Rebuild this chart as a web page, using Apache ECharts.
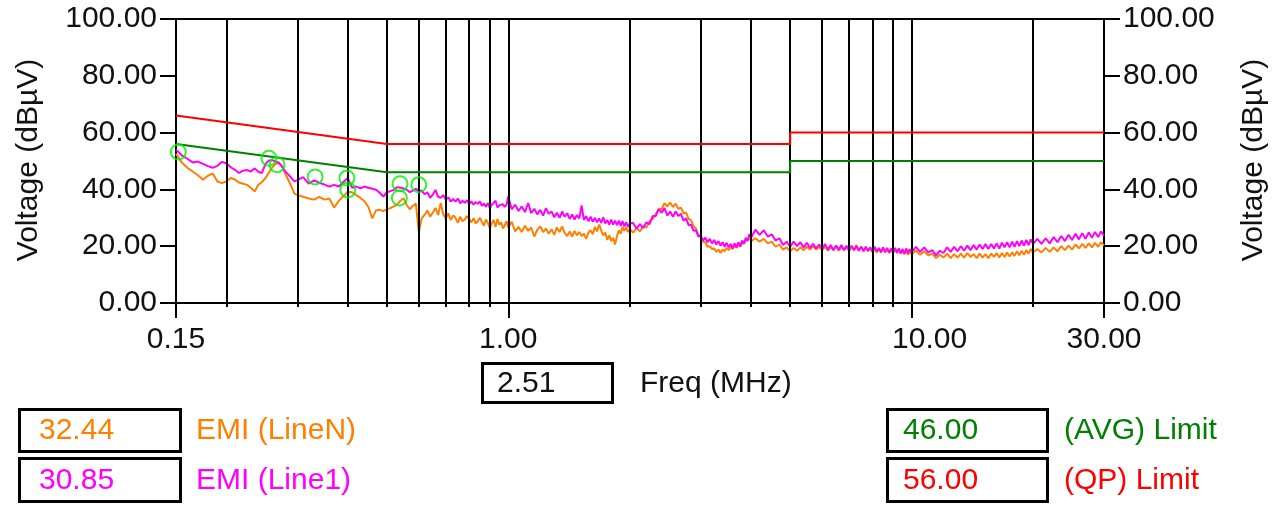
<!DOCTYPE html>
<html><head><meta charset="utf-8">
<script src="https://cdn.jsdelivr.net/npm/echarts@6/dist/echarts.min.js"></script>
<style>html,body{margin:0;padding:0;background:#fff;}#c{width:1281px;height:506px;}</style>
</head><body><div id="c"></div><script>
// Frequency sweep (MHz) shared by both EMI traces
const freqMHz = [
 0.150,0.155,0.160,0.165,0.170,0.175,0.180,0.185,0.190,0.195,0.200,0.205,0.210,0.215,0.220,0.225,0.230,0.235,0.240,0.245,0.250,0.255,0.260,0.265,0.270,0.275,0.280,0.285,0.290,0.295,0.300,
 0.31,0.32,0.33,0.34,0.35,0.36,0.37,0.38,0.39,0.40,0.41,0.42,0.43,0.44,0.45,0.46,0.47,0.48,0.49,0.50,0.51,0.52,0.53,0.54,0.55,0.56,0.57,0.58,0.59,0.60,
 0.61,0.62,0.63,0.64,0.65,0.66,0.67,0.68,0.69,0.70,0.71,0.72,0.73,0.74,0.75,0.76,0.77,0.78,0.79,0.80,
 0.81,0.82,0.83,0.84,0.85,0.86,0.87,0.88,0.89,0.90,0.91,0.92,0.93,0.94,0.95,0.96,0.97,0.98,0.99,1.00,
 1.02,1.04,1.06,1.08,1.10,1.12,1.14,1.16,1.18,1.20,1.22,1.24,1.26,1.28,1.30,1.32,1.34,1.36,1.38,1.40,
 1.42,1.44,1.46,1.48,1.50,1.52,1.54,1.56,1.58,1.60,1.62,1.64,1.66,1.68,1.70,1.72,1.74,1.76,1.78,1.80,
 1.82,1.84,1.86,1.88,1.90,1.92,1.94,1.96,1.98,2.00,
 2.04,2.08,2.12,2.16,2.20,2.24,2.28,2.32,2.36,2.40,2.44,2.48,2.52,2.56,2.60,2.64,2.68,2.72,2.76,2.80,
 2.84,2.88,2.92,2.96,3.00,3.04,3.08,3.12,3.16,3.20,3.24,3.28,3.32,3.36,3.40,3.44,3.48,3.52,3.56,3.60,
 3.64,3.68,3.72,3.76,3.80,3.84,3.88,3.92,3.96,4.00,
 4.1,4.2,4.3,4.4,4.5,4.6,4.7,4.8,4.9,5.0,5.1,5.2,5.3,5.4,5.5,5.6,5.7,5.8,5.9,6.0,
 6.1,6.2,6.3,6.4,6.5,6.6,6.7,6.8,6.9,7.0,7.1,7.2,7.3,7.4,7.5,7.6,7.7,7.8,7.9,8.0,
 8.1,8.2,8.3,8.4,8.5,8.6,8.7,8.8,8.9,9.0,9.1,9.2,9.3,9.4,9.5,9.6,9.7,9.8,9.9,10.0,
 10.25,10.5,10.75,11,11.25,11.5,11.75,12,12.25,12.5,12.75,13,13.25,13.5,13.75,14,14.25,14.5,14.75,15,
 15.25,15.5,15.75,16,16.25,16.5,16.75,17,17.25,17.5,17.75,18,18.25,18.5,18.75,19,19.25,19.5,19.75,20,
 20.5,21,21.5,22,22.5,23,23.5,24,24.5,25,25.5,26,26.5,27,27.5,28,28.5,29,29.5,30
];
// EMI (LineN) – orange trace, dBuV
const emiLineN = [
 52.5,49.5,47.6,46.3,45.0,43.4,44.8,45.6,42.8,42.2,42.8,44.0,43.5,42.4,42.0,41.6,40.6,39.3,41.6,42.6,44.0,46.0,47.8,49.0,49.2,48.0,45.5,43.2,41.0,38.5,38.0,
 37.4,36.8,36.4,37.4,36.4,36.8,33.6,36.0,37.6,39.2,39.0,38.0,37.0,35.8,33.8,29.8,32.6,32.8,32.4,33.0,33.4,34.0,34.6,36.0,36.9,34.5,33.0,34.2,35.0,25.0,
 29.8,31.0,32.6,30.4,31.8,33.5,31.0,35.2,31.2,29.8,31.6,29.2,30.8,30.0,28.2,30.4,28.8,29.4,30.6,29.6,
 28.4,29.9,28.0,28.8,30.0,28.6,27.2,29.4,28.2,26.4,28.0,29.2,26.8,29.6,27.6,28.4,26.2,27.4,28.8,26.6,
 28.6,25.2,26.8,25.0,27.2,25.4,26.6,23.4,25.8,27.0,25.0,26.2,24.4,26.0,24.0,26.6,25.0,27.0,24.6,23.6,
 25.2,23.4,25.4,23.8,25.0,23.6,24.4,22.6,24.8,25.6,24.2,26.8,25.2,27.6,25.6,23.8,24.8,22.2,23.8,21.8,
 23.0,20.6,23.6,25.6,24.4,26.8,25.4,26.6,25.0,26.0,
 24.8,26.4,25.2,27.0,26.6,28.8,29.6,31.2,33.2,33.0,35.2,34.0,35.4,33.8,35.0,33.2,33.6,31.6,31.8,29.6,
 29.2,27.0,26.2,24.0,23.4,21.6,21.4,19.8,20.0,19.0,19.2,18.0,18.8,17.6,18.8,18.2,19.4,18.6,19.8,19.0,
 20.2,19.4,20.6,19.8,21.2,20.8,22.0,21.6,22.8,21.8,
 22.8,21.6,22.6,21.0,21.6,19.8,20.6,18.8,19.6,18.2,19.4,18.4,19.6,18.6,19.8,18.8,20.0,18.8,19.8,18.6,
 19.8,18.4,19.6,18.8,20.0,18.4,19.6,18.8,20.2,18.6,19.8,18.8,20.4,18.6,19.8,18.4,19.6,18.2,19.4,18.0,
 19.2,17.8,19.0,18.0,19.2,17.8,18.8,17.6,18.6,17.8,19.0,17.6,18.6,17.4,18.4,17.2,18.4,17.0,18.2,17.2,
 18.4,17.0,18.2,16.8,17.4,15.8,17.0,16.0,17.4,15.8,17.2,16.0,17.4,16.0,17.6,16.2,17.2,15.8,17.4,16.0,
 17.2,15.8,17.4,16.2,17.6,16.0,17.6,16.2,17.8,16.4,17.8,16.6,18.2,16.8,18.4,17.0,18.6,17.4,19.0,17.8,
 19.0,17.8,19.4,18.0,19.6,18.2,20.0,18.6,20.2,18.8,20.6,19.2,20.8,19.4,21.0,19.6,21.2,19.8,21.4,20.2
];
// EMI (Line1) – magenta trace, dBuV
const emiLine1 = [
 54.0,52.0,50.8,49.5,49.8,49.0,48.2,47.6,48.3,49.7,49.2,47.8,46.9,45.8,46.6,46.8,46.3,47.4,46.2,45.8,49.0,50.2,50.3,49.8,49.4,48.0,46.3,45.2,44.0,42.8,43.3,
 44.3,42.0,43.2,42.3,41.7,41.0,41.6,41.0,42.6,44.0,40.6,41.0,40.4,41.0,40.6,40.2,39.9,38.8,37.5,39.0,39.4,39.8,40.8,40.6,40.3,39.9,39.0,39.6,40.2,39.2,
 39.6,38.3,39.0,37.0,38.2,39.8,37.4,37.0,38.0,36.3,37.2,35.7,36.6,35.7,36.8,35.1,36.0,35.3,36.2,34.8,
 35.8,34.6,35.6,34.9,35.8,34.2,35.0,33.9,35.2,33.4,34.6,34.3,36.0,33.6,34.4,33.9,34.8,33.8,34.6,37.5,
 33.0,34.6,32.4,34.0,32.0,35.2,31.6,33.2,31.2,32.8,30.8,33.4,31.4,32.2,30.2,31.8,30.0,32.2,30.4,31.6,
 29.6,31.2,29.4,31.0,29.8,34.4,29.2,30.6,28.8,30.4,28.6,30.0,28.4,29.8,28.2,30.2,28.0,29.2,27.6,29.4,
 27.6,29.0,27.4,29.0,27.2,28.8,27.0,28.4,26.8,28.0,
 28.2,26.2,27.8,26.4,28.4,27.8,30.6,30.6,33.0,31.8,33.4,30.8,32.2,30.4,32.2,30.6,31.4,29.0,29.8,27.4,
 27.6,25.4,25.6,23.4,23.8,22.0,23.0,21.4,22.6,21.0,22.2,20.6,21.8,20.2,21.4,19.8,21.2,19.6,20.8,19.2,
 21.0,19.6,21.4,20.0,22.0,20.8,23.0,21.8,24.2,23.0,
 25.8,24.0,25.6,23.4,24.2,22.0,22.8,20.4,21.6,19.8,21.6,20.0,21.4,19.6,21.2,19.4,20.8,19.2,20.6,19.0,
 20.8,18.8,20.4,18.6,20.2,18.8,20.4,18.6,20.0,18.4,20.2,18.6,20.0,18.4,19.8,18.2,19.8,18.4,19.6,18.0,
 19.8,18.2,19.4,17.8,19.6,18.0,19.4,17.8,19.2,17.6,19.4,17.8,19.2,17.6,19.0,17.4,19.2,17.6,19.0,17.8,
 19.8,18.0,19.6,17.8,18.6,16.8,18.4,17.6,19.6,18.0,19.8,18.2,20.0,18.4,20.2,18.6,20.4,18.8,20.6,19.0,
 20.8,19.0,20.8,19.2,21.0,19.2,21.2,19.6,21.4,19.6,21.6,19.8,21.8,20.0,22.0,20.2,22.2,20.4,22.4,20.8,
 22.6,20.8,22.8,21.0,23.2,21.4,23.6,21.8,24.0,22.2,24.4,22.4,24.6,22.6,24.8,23.0,25.0,23.2,25.2,23.6
];
// Limit lines
const limitFreq = [0.15, 0.5, 5, 5, 30];
const qpLimit  = [66, 56, 56, 60, 60];
const avgLimit = [56, 46, 46, 50, 50];
// Peak markers
const peakFreq = [0.152, 0.255, 0.267, 0.332, 0.398, 0.400, 0.539, 0.537, 0.600];
const peakVal  = [53.2, 51.0, 48.7, 44.4, 44.0, 39.8, 42.0, 37.0, 41.6];
// Axis ticks
const gridFreq = [0.2,0.3,0.4,0.5,0.6,0.7,0.8,0.9,1,2,3,4,5,6,7,8,9,10,20];
const xLabelFreq = [0.15, 1, 10, 30];
// Readouts
const readFreq = '2.51', readLineN = '32.44', readLine1 = '30.85', readAvg = '46.00', readQp = '56.00';

const FONT = '"Liberation Sans", Arial, sans-serif';
const TXT = '#111';
const pair = (xs, ys) => xs.map((x, i) => [x, ys[i]]);
const chart = echarts.init(document.getElementById('c'), null, {renderer: 'canvas'});

const yAxisBase = (pos) => ({
  type: 'value', min: 0, max: 100, interval: 20, position: pos,
  axisLine: {show: true, lineStyle: {color: '#000', width: 2}},
  axisTick: {show: true, length: 16, lineStyle: {color: '#000', width: 2}},
  axisLabel: {formatter: v => v.toFixed(2), color: TXT, fontSize: 30, fontFamily: FONT, margin: 19},
  splitLine: {show: false}
});

const txt = (x, y, text, color) => ({
  type: 'text', x: x, y: y,
  style: {text: text, fill: color, font: '30px ' + FONT, align: 'left', verticalAlign: 'middle'}
});
const vtxt = (x, y, text) => ({
  type: 'text', x: x, y: y, rotation: Math.PI / 2,
  style: {text: text, fill: TXT, font: '30px ' + FONT, align: 'center', verticalAlign: 'middle'}
});
const box = (x, y, w, h) => ({type: 'rect', shape: {x: x, y: y, width: w, height: h},
  style: {fill: '#fff', stroke: '#000', lineWidth: 3}});

chart.setOption({
  animation: false,
  backgroundColor: '#fff',
  grid: {left: 176, right: 177, top: 19, bottom: 203, show: true, borderColor: '#000', borderWidth: 2, backgroundColor: 'transparent'},
  xAxis: [{
    type: 'log', logBase: 10, min: 0.15, max: 30, position: 'bottom',
    axisLine: {show: true, lineStyle: {color: '#000', width: 2}},
    axisTick: {show: true, customValues: xLabelFreq, length: 15, lineStyle: {color: '#000', width: 2}},
    axisLabel: {customValues: xLabelFreq, color: TXT, fontSize: 30, fontFamily: FONT, margin: 22,
      formatter: v => (Math.abs(v - 10) < 1e-6 ? '{s|' + Number(v).toFixed(2) + '}' : Number(v).toFixed(2)),
      rich: {s: {fontSize: 30, fontFamily: FONT, color: TXT, padding: [0, 0, 0, 36]}}},
    splitLine: {show: false}, minorTick: {show: false}
  }, {
    type: 'log', logBase: 10, min: 0.15, max: 30, position: 'bottom',
    axisLine: {show: false},
    axisTick: {show: true, customValues: gridFreq, length: 4, lineStyle: {color: '#000', width: 2}},
    axisLabel: {show: false}, splitLine: {show: false}
  }],
  yAxis: [yAxisBase('left'), yAxisBase('right')],
  series: [
    {type: 'line', data: [], z: 1, silent: true,
     markLine: {silent: true, symbol: ['none', 'none'], label: {show: false}, animation: false,
       lineStyle: {color: '#000', width: 2, type: 'solid'},
       data: gridFreq.map(f => ({xAxis: f}))}},
    {type: 'line', name: 'EMI (LineN)', data: pair(freqMHz, emiLineN), symbol: 'none', z: 3,
     lineStyle: {color: '#ff8000', width: 2}, itemStyle: {color: '#ff8000'}},
    {type: 'line', name: 'EMI (Line1)', data: pair(freqMHz, emiLine1), symbol: 'none', z: 4,
     lineStyle: {color: '#ff00ff', width: 2}, itemStyle: {color: '#ff00ff'}},
    {type: 'line', name: '(AVG) Limit', data: pair(limitFreq, avgLimit), symbol: 'none', z: 5,
     lineStyle: {color: '#008000', width: 2}, itemStyle: {color: '#008000'}},
    {type: 'line', name: '(QP) Limit', data: pair(limitFreq, qpLimit), symbol: 'none', z: 5,
     lineStyle: {color: '#ff0000', width: 2}, itemStyle: {color: '#ff0000'}},
    {type: 'scatter', name: 'Peaks', data: pair(peakFreq, peakVal), symbol: 'circle', symbolSize: 15, z: 6,
     itemStyle: {color: 'rgba(0,0,0,0)', borderColor: '#00ee00', borderWidth: 2}}
  ],
  graphic: [
    vtxt(29, 160, 'Voltage (dBµV)'),
    vtxt(1254, 160, 'Voltage (dBµV)'),
    box(482.5, 363.5, 130, 39),
    txt(497, 384, readFreq, TXT),
    txt(640, 384, 'Freq (MHz)', TXT),
    box(19.5, 409.5, 161, 42),
    txt(39, 431, readLineN, '#ff8000'),
    txt(196, 431, 'EMI (LineN)', '#ff8000'),
    box(19.5, 458.5, 161, 43),
    txt(39, 481, readLine1, '#ff00ff'),
    txt(196, 481, 'EMI (Line1)', '#ff00ff'),
    box(887.5, 409.5, 160, 42),
    txt(903, 431, readAvg, '#008000'),
    txt(1064, 431, '(AVG) Limit', '#008000'),
    box(887.5, 458.5, 160, 43),
    txt(903, 481, readQp, '#ff0000'),
    txt(1064, 481, '(QP) Limit', '#ff0000')
  ]
});
</script></body></html>
